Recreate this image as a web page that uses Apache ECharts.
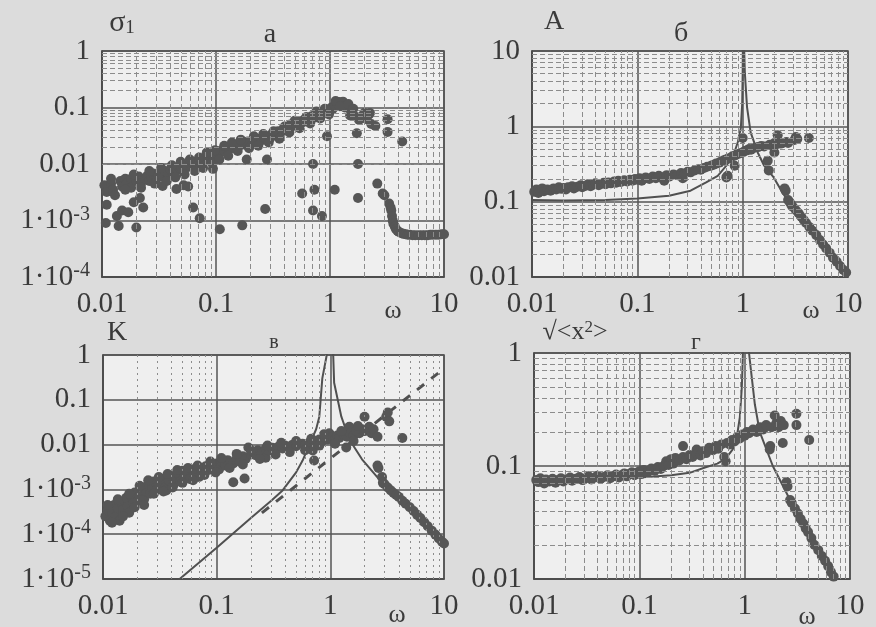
<!DOCTYPE html>
<html><head><meta charset="utf-8">
<script src="https://cdn.jsdelivr.net/npm/echarts@6/dist/echarts.min.js"></script>
<style>html,body{margin:0;padding:0;background:#dcdcdc}#c{width:876px;height:627px}</style>
</head><body><div id="c"></div><script>
// ---------- tick labels ----------
const xTicks = [0.01, 0.1, 1, 10];
const xTickLabels = ['0.01', '0.1', '1', '10'];
const yTicksA = [1e-4, 1e-3, 0.01, 0.1, 1];
const yLabelsA = ['{m|1·10}{s|-4}', '{m|1·10}{s|-3}', '0.01', '0.1', '1'];
const yTicksB = [0.01, 0.1, 1, 10];
const yLabelsB = ['0.01', '0.1', '1', '10'];
const yTicksC = [1e-5, 1e-4, 1e-3, 0.01, 0.1, 1];
const yLabelsC = ['{m|1·10}{s|-5}', '{m|1·10}{s|-4}', '{m|1·10}{s|-3}', '0.01', '0.1', '1'];
const yTicksD = [0.01, 0.1, 1];
const yLabelsD = ['0.01', '0.1', '1'];

// ---------- panel а : sigma_1 (points) ----------
const pointsA = [
[0.0105,0.0042],[0.011,0.0032],[0.011,0.0019],[0.0108,0.0009],[0.012,0.0045],[0.0125,0.0035],[0.013,0.0028],[0.0135,0.0012],[0.014,0.0008],[0.0145,0.005],
[0.015,0.004],[0.015,0.0015],[0.016,0.0055],[0.0165,0.0045],[0.017,0.0014],[0.018,0.0055],[0.018,0.0038],[0.019,0.0021],[0.02,0.005],[0.02,0.00075],
[0.021,0.006],[0.0215,0.0025],[0.022,0.0045],[0.023,0.0017],[0.024,0.0055],[0.025,0.0062],[0.026,0.005],[0.027,0.0058],[0.028,0.0068],[0.03,0.0055],
[0.031,0.0065],[0.032,0.0072],[0.034,0.006],[0.034,0.0041],[0.036,0.0075],[0.038,0.0068],[0.04,0.0078],[0.042,0.007],[0.043,0.0085],[0.045,0.0036],
[0.046,0.0078],[0.048,0.0088],[0.05,0.0082],[0.052,0.0042],[0.054,0.0095],[0.056,0.0088],[0.057,0.004],[0.06,0.01],[0.063,0.0017],[0.064,0.0095],
[0.067,0.011],[0.07,0.0105],[0.072,0.0011],[0.075,0.012],[0.078,0.0112],[0.082,0.014],[0.085,0.0125],[0.09,0.013],[0.094,0.0082],[0.095,0.015],
[0.1,0.014],[0.102,0.017],[0.108,0.0007],[0.11,0.016],[0.115,0.018],[0.12,0.017],[0.125,0.02],[0.13,0.018],[0.14,0.021],[0.145,0.019],
[0.15,0.022],[0.16,0.021],[0.17,0.00082],[0.17,0.024],[0.18,0.022],[0.186,0.012],[0.19,0.025],[0.2,0.024],[0.21,0.023],[0.22,0.027],
[0.23,0.025],[0.24,0.028],[0.25,0.026],[0.27,0.0016],[0.27,0.03],[0.28,0.012],[0.28,0.031],[0.3,0.029],[0.31,0.034],[0.33,0.033],
[0.35,0.038],[0.37,0.036],[0.39,0.042],[0.41,0.04],[0.43,0.045],[0.45,0.05],[0.47,0.046],[0.5,0.052],[0.52,0.048],[0.55,0.057],
[0.57,0.003],[0.58,0.055],[0.6,0.062],[0.63,0.058],[0.66,0.065],[0.69,0.07],[0.71,0.01],[0.71,0.0015],[0.73,0.0035],[0.73,0.066],
[0.75,0.075],[0.78,0.07],[0.8,0.08],[0.84,0.076],[0.85,0.0012],[0.88,0.085],[0.92,0.082],[0.94,0.031],[0.96,0.092],[1.0,0.088],
[1.03,0.1],[1.06,0.095],[1.1,0.0035],[1.1,0.11],[1.15,0.12],[1.2,0.125],[1.25,0.118],[1.3,0.127],[1.35,0.1],[1.4,0.11],
[1.45,0.115],[1.5,0.072],[1.55,0.085],[1.6,0.095],[1.65,0.07],[1.72,0.035],[1.76,0.01],[1.76,0.0025],[1.8,0.06],[1.9,0.07],
[2.0,0.08],[2.1,0.062],[2.2,0.075],[2.24,0.08],[2.3,0.051],[2.5,0.047],[2.6,0.0045],[2.9,0.003],[3.0,0.0028],[3.2,0.062],
[3.2,0.037],[3.3,0.002],[3.4,0.0017],[4.3,0.025],
[0.012,0.0055],[0.016,0.0035],[0.019,0.0065],[0.022,0.0038],[0.026,0.0075],[0.029,0.0045],[0.033,0.0085],[0.037,0.005],[0.041,0.0095],[0.044,0.0058],
[0.049,0.011],[0.053,0.0065],[0.059,0.012],[0.065,0.0075],[0.071,0.013],[0.077,0.0085],[0.083,0.016],[0.092,0.0105],[0.098,0.0175],[0.107,0.012],
[0.118,0.021],[0.128,0.014],[0.138,0.024],[0.155,0.017],[0.165,0.027],[0.195,0.019],[0.215,0.031],[0.235,0.021],[0.26,0.034],[0.29,0.024],
[0.32,0.038],[0.36,0.028],[0.4,0.046],[0.44,0.036],[0.49,0.058],[0.54,0.043],[0.62,0.068],[0.67,0.052],[0.76,0.085],[0.82,0.064],
[0.9,0.095],[0.98,0.075],[1.12,0.13],[1.22,0.105],
[3.45,0.0015],[3.5,0.0012],[3.55,0.001],[3.6,0.00088],[3.7,0.00078],[3.8,0.0007],[3.9,0.00066],[4.0,0.00063],[4.2,0.0006],[4.4,0.00058],
[4.6,0.00057],[4.8,0.00056],[5.0,0.00056],[5.3,0.00055],[5.6,0.00055],[6.0,0.00055],[6.4,0.00055],[6.8,0.00055],[7.2,0.00055],[7.6,0.00056],
[8.0,0.00056],[8.5,0.00056],[9.0,0.00056],[9.5,0.00057],[10,0.00057]
];

// ---------- panel б : A ----------
const pointsB = [
[0.0105,0.135],[0.011,0.145],[0.0115,0.13],[0.012,0.14],[0.0125,0.15],[0.013,0.138],[0.014,0.145],[0.015,0.14],[0.016,0.15],[0.017,0.145],
[0.018,0.155],[0.019,0.148],[0.02,0.152],[0.021,0.145],[0.022,0.155],[0.024,0.16],[0.025,0.15],[0.027,0.158],[0.029,0.165],[0.03,0.155],
[0.032,0.162],[0.034,0.17],[0.036,0.16],[0.038,0.168],[0.04,0.175],[0.043,0.165],[0.045,0.172],[0.048,0.178],[0.05,0.17],[0.053,0.18],
[0.056,0.175],[0.06,0.185],[0.063,0.178],[0.066,0.19],[0.07,0.182],[0.075,0.192],[0.08,0.185],[0.085,0.195],[0.09,0.19],[0.095,0.2],
[0.1,0.195],[0.105,0.205],[0.11,0.19],[0.115,0.2],[0.12,0.21],[0.13,0.2],[0.14,0.215],[0.15,0.205],[0.16,0.22],[0.17,0.21],
[0.18,0.19],[0.19,0.225],[0.2,0.215],[0.22,0.23],[0.24,0.225],[0.26,0.24],[0.27,0.205],[0.28,0.235],[0.3,0.25],[0.32,0.245],
[0.35,0.26],[0.38,0.27],[0.4,0.265],[0.43,0.28],[0.46,0.29],[0.5,0.3],[0.53,0.31],[0.56,0.32],[0.6,0.33],[0.64,0.35],
[0.68,0.36],[0.7,0.21],[0.72,0.22],[0.72,0.37],[0.76,0.38],[0.8,0.4],[0.84,0.3],[0.85,0.41],[0.9,0.43],[0.95,0.44],
[1.0,0.45],[1.0,0.7],[1.05,0.47],[1.1,0.48],[1.15,0.5],[1.2,0.49],[1.3,0.52],[1.4,0.53],[1.5,0.55],[1.6,0.54],
[1.73,0.35],[1.77,0.26],[1.8,0.57],[1.9,0.56],[2.0,0.6],[2.0,0.45],[2.1,0.58],[2.15,0.76],[2.2,0.62],[2.3,0.59],
[2.4,0.6],[2.5,0.15],[2.56,0.14],[2.6,0.62],[2.7,0.6],[3.1,0.66],[3.2,0.72],[3.3,0.68],[4.25,0.7],
[2.7,0.105],[2.8,0.098],[2.9,0.09],[3.0,0.085],[3.2,0.077],[3.4,0.07],[3.6,0.063],[3.8,0.057],[4.0,0.052],[4.3,0.046],
[4.6,0.041],[5.0,0.036],[5.4,0.031],[5.8,0.027],[6.2,0.024],[6.7,0.021],[7.2,0.018],[7.8,0.016],[8.4,0.014],[9.0,0.0125],[9.6,0.0115]
];
const theoryB = [
[0.01,0.105],[0.02,0.104],[0.05,0.105],[0.1,0.11],[0.2,0.12],[0.32,0.14],[0.45,0.18],[0.58,0.22],[0.7,0.3],[0.82,0.42],
[0.9,0.62],[0.96,0.94],[0.99,2],[1.0,5],[1.01,30],[1.03,30],[1.05,5],[1.1,1.8],[1.19,0.83],[1.39,0.45],
[1.6,0.3],[1.97,0.21],[2.4,0.13],[2.86,0.093],[3.5,0.065],[4.4,0.04],[5.5,0.03],[6.9,0.02],[8.5,0.014],[10,0.011]
];

// ---------- panel в : K ----------
const pointsC = [
[0.0105,0.00025],[0.011,0.00034],[0.0115,0.0002],[0.012,0.0003],[0.0125,0.00045],[0.013,0.00025],[0.0135,0.00038],[0.014,0.0002],[0.0145,0.0005],[0.015,0.00035],
[0.016,0.00065],[0.0165,0.00042],[0.017,0.0003],[0.018,0.00066],[0.0185,0.0005],[0.019,0.00085],[0.02,0.00055],[0.021,0.0007],[0.022,0.0011],[0.023,0.0006],
[0.024,0.0009],[0.025,0.0013],[0.026,0.0008],[0.027,0.0011],[0.028,0.0015],[0.03,0.001],[0.031,0.0013],[0.033,0.0017],[0.035,0.0011],[0.036,0.00095],
[0.038,0.0016],[0.04,0.002],[0.042,0.0013],[0.044,0.0018],[0.046,0.0022],[0.048,0.0015],[0.05,0.0026],[0.052,0.0019],[0.055,0.0023],[0.058,0.0017],
[0.06,0.0028],[0.063,0.0021],[0.066,0.0025],[0.07,0.0019],[0.072,0.003],[0.075,0.0024],[0.08,0.0033],[0.085,0.0027],[0.09,0.0036],[0.095,0.003],
[0.1,0.0038],[0.105,0.0028],[0.11,0.0042],[0.12,0.0034],[0.125,0.0045],[0.13,0.0038],[0.14,0.0038],[0.14,0.00145],[0.15,0.0048],[0.16,0.0042],
[0.17,0.0055],[0.176,0.00175],[0.18,0.0048],[0.19,0.0086],[0.2,0.006],[0.21,0.0068],[0.22,0.0058],[0.23,0.0075],[0.25,0.0065],[0.27,0.0051],
[0.27,0.0082],[0.29,0.0074],[0.31,0.0085],[0.33,0.0078],[0.35,0.009],[0.38,0.0082],[0.4,0.0095],[0.43,0.0088],[0.46,0.0098],[0.5,0.0092],
[0.53,0.0105],[0.57,0.0105],[0.6,0.0098],[0.65,0.011],[0.7,0.0074],[0.72,0.0044],[0.72,0.012],[0.76,0.011],[0.8,0.013],[0.85,0.012],
[0.9,0.014],[0.95,0.013],[0.98,0.018],[1.0,0.014],[1.05,0.015],[1.1,0.013],[1.15,0.016],[1.2,0.014],[1.3,0.017],[1.38,0.0086],
[1.4,0.015],[1.47,0.025],[1.5,0.018],[1.6,0.016],[1.7,0.02],[1.8,0.018],[1.9,0.022],[2.0,0.042],[2.0,0.02],[2.2,0.025],
[2.3,0.018],[2.4,0.022],[2.6,0.015],[2.6,0.0034],[2.65,0.003],[2.85,0.0019],[3.1,0.042],[3.2,0.052],[3.3,0.033],[4.3,0.014],
[0.011,0.00045],[0.012,0.00018],[0.0135,0.0006],[0.015,0.00025],[0.017,0.0008],[0.019,0.0004],[0.021,0.0012],[0.023,0.00045],[0.025,0.0016],[0.028,0.0008],
[0.031,0.0019],[0.034,0.0009],[0.037,0.0022],[0.041,0.0011],[0.045,0.0027],[0.05,0.0014],[0.056,0.003],[0.062,0.0016],[0.068,0.0034],[0.078,0.0021],
[0.088,0.0042],[0.098,0.0024],[0.11,0.005],[0.13,0.003],[0.15,0.0062],[0.17,0.0036],[0.2,0.0075],[0.24,0.0048],[0.28,0.0095],[0.33,0.006],
[0.37,0.011],[0.44,0.0068],[0.5,0.012],[0.6,0.0075],[0.68,0.0135],[0.8,0.0095],[0.88,0.017],[1.1,0.0105],[1.25,0.02],[1.6,0.012],[1.75,0.026],
[2.9,0.0014],[3.0,0.0013],[3.2,0.0011],[3.4,0.00095],[3.6,0.00083],[3.8,0.00075],[4.0,0.00068],[4.3,0.00056],[4.6,0.00048],[5.0,0.0004],
[5.4,0.00033],[5.8,0.00027],[6.2,0.00023],[6.7,0.000185],[7.2,0.00015],[7.8,0.00012],[8.4,0.000098],[9.0,0.00008],[9.6,0.000068],[10,0.000062]
];
const theoryC = [
[0.04,0.000007],[0.1,0.00005],[0.2,0.00023],[0.3,0.00055],[0.38,0.00095],[0.5,0.0024],[0.57,0.0044],[0.66,0.0105],[0.75,0.022],[0.8,0.042],
[0.85,0.3],[0.93,1],[0.97,3],[1.03,3],[1.06,1],[1.08,0.24],[1.25,0.042],[1.47,0.013],[1.9,0.0047],[2.86,0.0014],
[3.5,0.0009],[4.0,0.00068],[4.9,0.00042],[6,0.00026],[7,0.000175],[8.5,0.0001],[10,0.000062]
];
const dashedC = [[0.25,0.0003],[10,0.5]];

// ---------- panel г : sqrt(<x^2>) ----------
const pointsD = [
[0.0105,0.075],[0.011,0.072],[0.0115,0.078],[0.012,0.074],[0.0125,0.07],[0.013,0.076],[0.014,0.073],[0.015,0.077],[0.016,0.071],[0.017,0.075],
[0.018,0.078],[0.019,0.073],[0.02,0.076],[0.022,0.079],[0.023,0.074],[0.025,0.077],[0.027,0.08],[0.029,0.075],[0.031,0.078],[0.033,0.081],
[0.035,0.076],[0.038,0.079],[0.04,0.082],[0.043,0.077],[0.046,0.08],[0.05,0.083],[0.053,0.078],[0.056,0.081],[0.06,0.084],[0.064,0.079],
[0.068,0.083],[0.072,0.086],[0.076,0.081],[0.08,0.085],[0.085,0.088],[0.09,0.083],[0.095,0.087],[0.1,0.09],[0.105,0.085],[0.11,0.092],
[0.12,0.088],[0.13,0.095],[0.14,0.091],[0.15,0.098],[0.16,0.094],[0.17,0.1],[0.18,0.11],[0.19,0.102],[0.2,0.115],[0.21,0.105],
[0.22,0.118],[0.24,0.112],[0.26,0.15],[0.26,0.12],[0.28,0.115],[0.3,0.125],[0.32,0.12],[0.35,0.14],[0.35,0.128],[0.38,0.124],
[0.4,0.135],[0.43,0.13],[0.46,0.145],[0.5,0.138],[0.53,0.15],[0.56,0.142],[0.6,0.155],[0.64,0.12],[0.66,0.11],[0.68,0.16],
[0.72,0.155],[0.76,0.17],[0.8,0.165],[0.85,0.18],[0.9,0.175],[0.95,0.19],[1.0,0.185],[1.05,0.2],[1.1,0.195],[1.2,0.21],
[1.3,0.2],[1.4,0.22],[1.5,0.21],[1.6,0.23],[1.73,0.14],[1.75,0.15],[1.8,0.22],[1.93,0.28],[2.0,0.24],[2.1,0.22],
[2.2,0.25],[2.3,0.16],[2.35,0.23],[3.1,0.29],[3.1,0.23],[4.1,0.17],[2.5,0.072],[2.55,0.066],
[2.7,0.05],[2.8,0.047],[3.0,0.042],[3.2,0.038],[3.4,0.034],[3.6,0.031],[3.8,0.028],[4.0,0.026],[4.3,0.023],[4.6,0.02],
[5.0,0.018],[5.4,0.016],[5.8,0.0145],[6.2,0.013],[6.6,0.0115],[7.0,0.0105]
];
const theoryD = [
[0.01,0.075],[0.03,0.076],[0.1,0.079],[0.2,0.083],[0.3,0.087],[0.42,0.097],[0.55,0.105],[0.62,0.112],[0.7,0.125],[0.77,0.14],
[0.85,0.19],[0.9,0.27],[0.94,0.5],[0.96,0.92],[0.99,3],[1.05,3],[1.1,1],[1.17,0.6],[1.25,0.35],[1.39,0.2],
[1.85,0.1],[2.7,0.05],[4.15,0.027],[7,0.0105],[10,0.0068]
];

// ---------- styling ----------
const FONT = '"Liberation Serif","Times New Roman",serif';
const INK = '#3a3a3a';
const DOT = '#565656';
const grids = [
  {left:102, top:51, width:342, height:226},
  {left:532, top:51, width:316, height:226},
  {left:103, top:355, width:341, height:224},
  {left:534, top:353, width:316, height:226}
];
const yExt = [[1e-4,1],[0.01,10],[1e-5,1],[0.01,1]];
const yT = [yTicksA, yTicksB, yTicksC, yTicksD];
const yL = [yLabelsA, yLabelsB, yLabelsC, yLabelsD];

function labelFor(ticks, labels) {
  return function (v) {
    const i = ticks.findIndex(t => Math.abs(Math.log10(t) - Math.log10(v)) < 1e-6);
    return i >= 0 ? labels[i] : '';
  };
}
const richLab = {
  m: {fontSize: 29, fontFamily: FONT, color: INK, lineHeight: 32},
  s: {fontSize: 20, fontFamily: FONT, color: INK, lineHeight: 20, verticalAlign: 'top'}
};
function minorVals(lo, hi) {
  const out = [];
  for (let e = Math.round(Math.log10(lo)); e < Math.round(Math.log10(hi)); e++)
    for (let k = 2; k <= 9; k++) out.push(k * Math.pow(10, e));
  return out;
}

const xAxes = grids.map((g, i) => ({
  type: 'log', logBase: 10, gridIndex: i, min: 0.01, max: 10,
  axisLine: {show: true, lineStyle: {color: '#4a4a4a', width: 1.5}},
  axisTick: {show: false},
  splitLine: {show: true, lineStyle: {color: '#555', width: 1.5}},
  axisLabel: {show: true, margin: 13, fontSize: 29, fontFamily: FONT, color: INK,
    showMinLabel: true, showMaxLabel: true, formatter: labelFor(xTicks, xTickLabels)}
}));
const yAxes = grids.map((g, i) => ({
  type: 'log', logBase: 10, gridIndex: i, min: yExt[i][0], max: yExt[i][1],
  axisLine: {show: true, lineStyle: {color: '#4a4a4a', width: 1.5}},
  axisTick: {show: false},
  splitLine: {show: true, lineStyle: {color: '#555', width: 1.5}},
  axisLabel: {show: true, margin: 12, fontSize: 29, fontFamily: FONT, color: INK,
    showMinLabel: true, showMaxLabel: true, formatter: labelFor(yT[i], yL[i]), rich: richLab}
}));

const series = [];
grids.forEach((g, i) => {
  const mx = minorVals(0.01, 10).map(v => ({xAxis: v}));
  const my = i === 2 ? [] : minorVals(yExt[i][0], yExt[i][1]).map(v => ({yAxis: v}));
  series.push({
    type: 'line', xAxisIndex: i, yAxisIndex: i, data: [], z: 1, silent: true,
    markLine: {silent: true, symbol: ['none', 'none'], label: {show: false},
      lineStyle: {color: '#8c8c8c', width: 1, type: i === 2 ? [2, 4] : [5, 3]},
      data: mx.concat(my), animation: false}
  });
});
const scatterStyle = {color: DOT, opacity: 1};
series.push({type: 'scatter', xAxisIndex: 0, yAxisIndex: 0, data: pointsA, symbolSize: 10, itemStyle: scatterStyle, z: 4});
series.push({type: 'line', xAxisIndex: 1, yAxisIndex: 1, data: theoryB, showSymbol: false, symbol: 'none', lineStyle: {color: '#505050', width: 2}, z: 3, clip: true});
series.push({type: 'scatter', xAxisIndex: 1, yAxisIndex: 1, data: pointsB, symbolSize: 10, itemStyle: scatterStyle, z: 4});
series.push({type: 'line', xAxisIndex: 2, yAxisIndex: 2, data: theoryC, showSymbol: false, symbol: 'none', lineStyle: {color: '#505050', width: 2}, z: 3, clip: true});
series.push({type: 'line', xAxisIndex: 2, yAxisIndex: 2, data: dashedC, showSymbol: false, symbol: 'none', lineStyle: {color: '#505050', width: 3, type: [9, 9]}, z: 3, clip: true});
series.push({type: 'scatter', xAxisIndex: 2, yAxisIndex: 2, data: pointsC, symbolSize: 10, itemStyle: scatterStyle, z: 4});
series.push({type: 'line', xAxisIndex: 3, yAxisIndex: 3, data: theoryD, showSymbol: false, symbol: 'none', lineStyle: {color: '#505050', width: 2}, z: 3, clip: true});
series.push({type: 'scatter', xAxisIndex: 3, yAxisIndex: 3, data: pointsD, symbolSize: 10, itemStyle: scatterStyle, z: 4});

function txt(x, y, text, size, rich) {
  return {type: 'text', x: x, y: y, z: 10, style: {text: text, fill: INK, font: size + 'px ' + FONT,
    align: 'center', verticalAlign: 'middle', rich: rich || undefined}};
}
const richSub = {
  m: {fontSize: 30, fontFamily: FONT, fill: INK, color: INK, lineHeight: 30},
  b: {fontSize: 19, fontFamily: FONT, fill: INK, color: INK, lineHeight: 30, verticalAlign: 'bottom', padding: [12, 0, 0, 0]}
};

const option = {
  animation: false,
  backgroundColor: '#dcdcdc',
  grid: grids.map(g => Object.assign({show: true, backgroundColor: '#efefef', borderColor: '#4a4a4a', borderWidth: 1.5, containLabel: false}, g)),
  xAxis: xAxes,
  yAxis: yAxes,
  series: series,
  graphic: [
    txt(122, 23, '{m|σ}{b|1}', 30, richSub),
    txt(270, 35, 'а', 28),
    txt(554, 22, 'A', 28),
    txt(681, 34, 'б', 28),
    txt(117, 333, 'K', 28),
    txt(274, 343, 'в', 20),
    txt(575, 332, '{m|√<x}{s|2}{m|>}', 26, {
      m: {fontSize: 26, fontFamily: FONT, color: INK, lineHeight: 26},
      s: {fontSize: 17, fontFamily: FONT, color: INK, lineHeight: 16, verticalAlign: 'top'}}),
    txt(696, 343, 'г', 24),
    txt(393, 311, 'ω', 26),
    txt(811, 311, 'ω', 26),
    txt(397, 615, 'ω', 26),
    txt(807, 617, 'ω', 26)
  ]
};
const chart = echarts.init(document.getElementById('c'), null, {renderer: 'canvas'});
chart.setOption(option);
</script></body></html>
